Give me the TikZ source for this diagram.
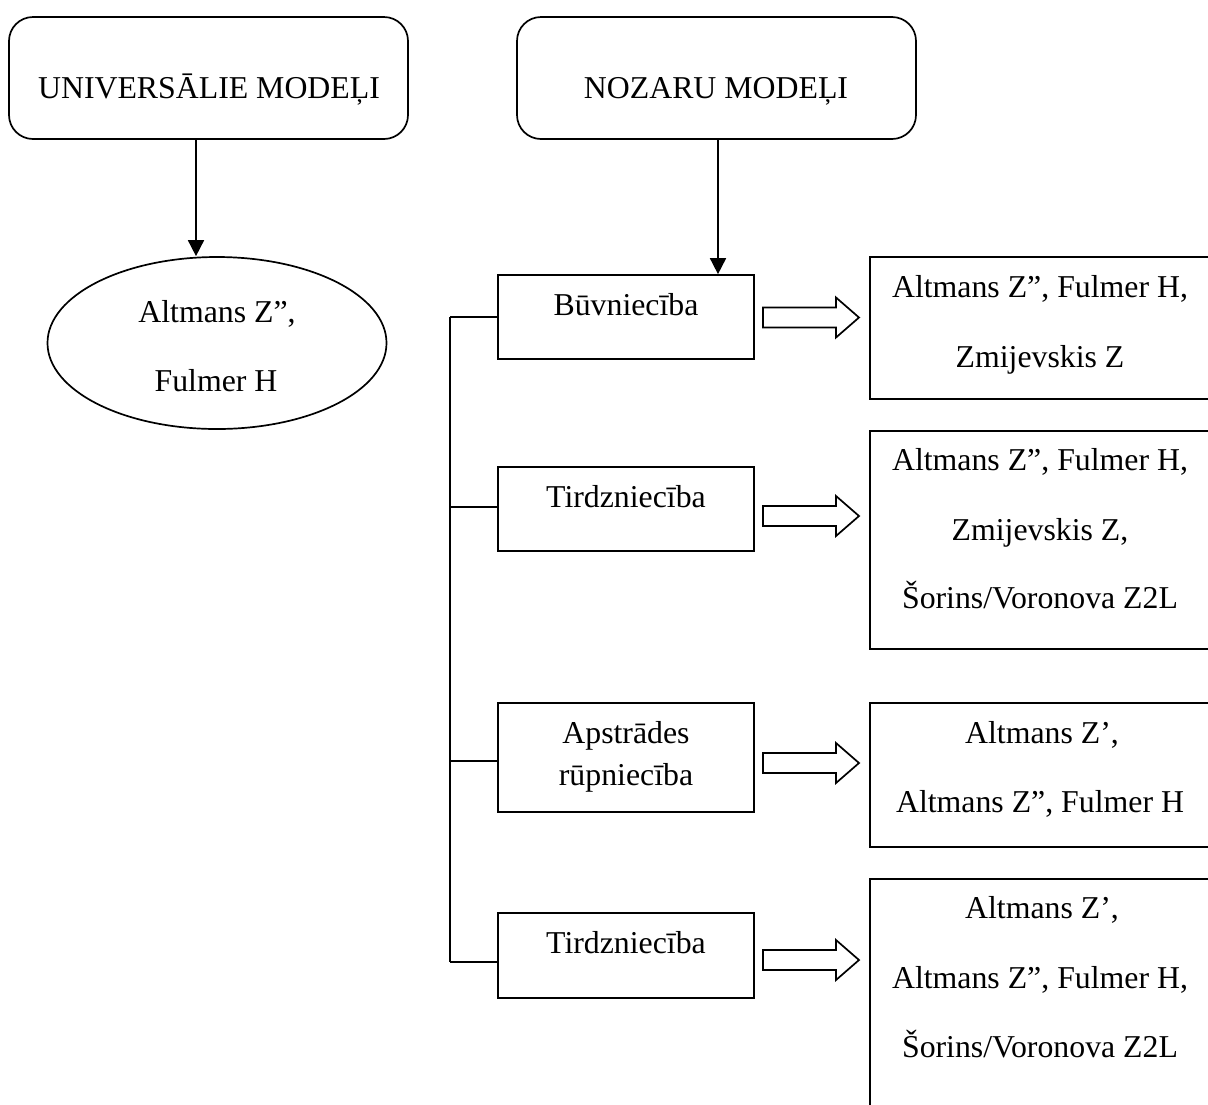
\documentclass[tikz,border=0pt]{standalone}
\usepackage{fontspec}
\setmainfont{Liberation Serif}
\usetikzlibrary{arrows.meta,shapes.geometric}
\begin{document}
\begin{tikzpicture}[x=0.5pt,y=-0.5pt,
  lw/.style={line width=0.85pt},
  rbox/.style={lw,draw,rounded corners=12pt,inner sep=0pt,minimum width=199.5pt,minimum height=61pt},
  sbox/.style={lw,draw,inner sep=0pt,minimum width=128pt},
  rtbox/.style={lw,draw,inner sep=0pt,minimum width=171pt},
  txt/.style={inner sep=0pt,anchor=base,font=\fontsize{15.9pt}{19pt}\selectfont},
  arr/.style={lw,-{Triangle[width=8pt,length=8pt]}},
  hollow/.style={lw,draw,fill=white,line join=miter}]
\useasboundingbox (0,0) rectangle (1208,1104);
% top boxes
\node[rbox] (top1) at (208.5,78) {};
\node[rbox] (top2) at (716.5,78) {};
\node[txt] (t1) at (209,98) {UNIVERSĀLIE MODEĻI};
\node[txt] (t2) at (716,98) {NOZARU MODEĻI};
% ellipse
\node[lw,draw,ellipse,inner sep=0pt,minimum width=169.5pt,minimum height=86pt] (ell) at (217,343) {};
\node[txt] (e1) at (217,322) {Altmans Z”,};
\node[txt] (e2) at (216,391) {Fulmer H};
% sector boxes
\node[sbox,minimum height=42pt] (b1) at (626,317) {};
\node[sbox,minimum height=42pt] (b2) at (626,509) {};
\node[sbox,minimum height=54.5pt] (b3) at (626,757.5) {};
\node[sbox,minimum height=42.5pt] (b4) at (626,955.5) {};
\node[txt] (bt1) at (626,315) {Būvniecība};
\node[txt] (bt2) at (626,507) {Tirdzniecība};
\node[txt] (bt3a) at (626,743) {Apstrādes};
\node[txt] (bt3b) at (626,785) {rūpniecība};
\node[txt] (bt4) at (626,953) {Tirdzniecība};
% result boxes
\node[rtbox,minimum height=71pt] (r1) at (1041,328) {};
\node[rtbox,minimum height=109pt] (r2) at (1041,540) {};
\node[rtbox,minimum height=72pt] (r3) at (1041,775) {};
\node[rtbox,minimum height=120.5pt] (r4) at (1041,999.5) {};
\node[txt] (r1a) at (1040,297) {Altmans Z”, Fulmer H,};
\node[txt] (r1b) at (1040,367) {Zmijevskis Z};
\node[txt] (r2a) at (1040,470) {Altmans Z”, Fulmer H,};
\node[txt] (r2b) at (1040,540) {Zmijevskis Z,};
\node[txt] (r2c) at (1040,608) {Šorins/Voronova Z2L};
\node[txt] (r3a) at (1042,743) {Altmans Z’,};
\node[txt] (r3b) at (1040,812) {Altmans Z”, Fulmer H};
\node[txt] (r4a) at (1042,918) {Altmans Z’,};
\node[txt] (r4b) at (1040,988) {Altmans Z”, Fulmer H,};
\node[txt] (r4c) at (1040,1057) {Šorins/Voronova Z2L};
% arrows from top boxes
\coordinate (ax) at (196,0);
\draw[arr] (top1.south -| ax) -- (ell.north -| ax);
\coordinate (bx) at (718,0);
\draw[arr] (top2.south -| bx) -- (b1.north -| bx);
% bus
\coordinate (bus1) at (450,317);
\coordinate (bus2) at (450,507);
\coordinate (bus3) at (450,761);
\coordinate (bus4) at (450,962);
\draw[lw] (bus1) -- (bus4);
\draw[lw] (bus1) -- (bus1 -| b1.west);
\draw[lw] (bus2) -- (bus2 -| b2.west);
\draw[lw] (bus3) -- (bus3 -| b3.west);
\draw[lw] (bus4) -- (bus4 -| b4.west);
% hollow arrows
\foreach \c in {317.5,516,763,960}{
  \draw[hollow] (763,\c-10) -- (836,\c-10) -- (836,\c-20) -- (859,\c) -- (836,\c+20) -- (836,\c+10) -- (763,\c+10) -- cycle;
}
\end{tikzpicture}
\end{document}
